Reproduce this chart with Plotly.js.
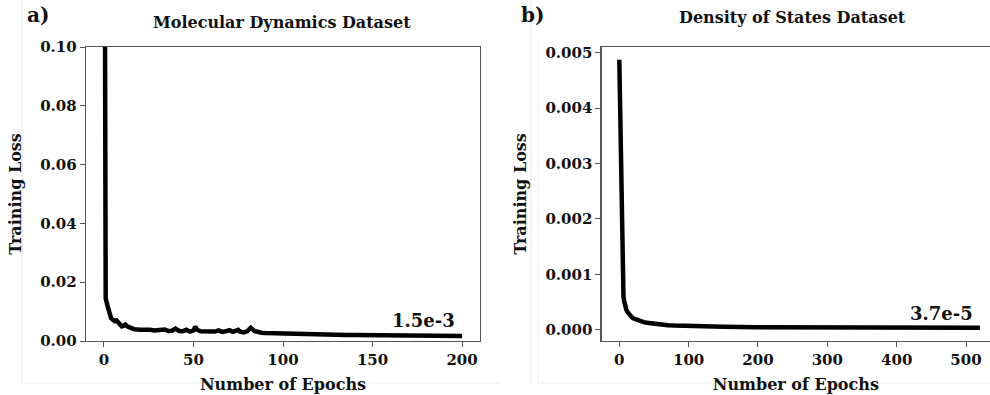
<!DOCTYPE html>
<html>
<head>
<meta charset="utf-8">
<script src="https://cdn.plot.ly/plotly-3.0.1.min.js"></script>
<style>html,body{margin:0;padding:0;background:#fff;}#chart{width:990px;height:395px;}</style>
</head>
<body>
<div id="chart"></div>
<script>
// Panel a: Molecular Dynamics Dataset
const mdEpochs = [0,1,2,3,4,5,6,7,8,9,10,11,12,13,14,15,16,17,18,19,20,
  22,24,26,28,30,32,34,36,38,40,42,44,46,48,50,51,52,54,56,58,60,62,64,66,68,70,72,74,75,76,78,80,82,84,86,88,90,
  95,100,105,110,115,120,125,130,135,140,145,150,160,170,180,190,200];
const mdLoss = [0.25,0.0145,0.012,0.0095,0.0078,0.0072,0.0068,0.0070,0.0062,0.0055,0.0050,0.0052,0.0056,0.0050,0.0046,0.0043,0.0042,0.0040,0.0041,0.0039,0.0038,
  0.0039,0.0037,0.0038,0.0036,0.0037,0.0035,0.0039,0.0034,0.0035,0.0042,0.0034,0.0033,0.0038,0.0032,0.0036,0.0049,0.0038,0.0033,0.0032,0.0033,0.0031,0.0032,0.0036,0.0031,0.0033,0.0037,0.0031,0.0034,0.0038,0.0032,0.0029,0.0033,0.0045,0.0034,0.0030,0.0028,0.0027,
  0.0026,0.0024,0.0023,0.0023,0.0022,0.0022,0.0021,0.0021,0.0020,0.0020,0.0020,0.0019,0.0019,0.0018,0.0018,0.0018,0.0017];
const mdFinal = "1.5e-3";

// Panel b: Density of States Dataset
const dosEpochs = [0,1,2,3,4,5,6,7,8,9,10,12,14,16,18,20,25,30,35,40,50,60,70,80,90,100,120,150,200,250,300,350,400,450,520];
const dosLoss = [0.00487,0.0039,0.0029,0.0020,0.0012,0.00075,0.00060,0.00052,0.00046,0.00041,0.00037,0.00032,0.00028,0.00025,0.00023,0.00021,0.00018,0.00016,0.00014,0.00013,0.00011,0.000095,0.000085,0.000078,0.000072,0.000066,0.00006,0.000055,0.00005,0.000047,0.000045,0.000043,0.000041,0.00004,0.000037];
const dosFinal = "3.7e-5";

const mdTicksX = [0,50,100,150,200];
const mdTicksY = [0,0.02,0.04,0.06,0.08,0.10];
const mdTickTextY = ["0.00","0.02","0.04","0.06","0.08","0.10"];
const dosTicksX = [0,100,200,300,400,500];
const dosTicksY = [0,0.001,0.002,0.003,0.004,0.005];
const dosTickTextY = ["0.000","0.001","0.002","0.003","0.004","0.005"];

const FONT = "DejaVu Serif";
const axisColor = "#555";
const tickFont = {family: FONT, size: 15, color: "#111", weight: "bold"};
const titleFont = {family: FONT, size: 16, color: "#111", weight: "bold"};

const traces = [
  {x: mdEpochs, y: mdLoss, xaxis: "x", yaxis: "y", mode: "lines", line: {color: "#000", width: 4.5}, hoverinfo: "skip"},
  {x: dosEpochs, y: dosLoss, xaxis: "x2", yaxis: "y2", mode: "lines", line: {color: "#000", width: 4.5}, hoverinfo: "skip"}
];

function xax(domain, range, ticks, anchor, mirror) {
  return {domain: domain, range: range, anchor: anchor, tickvals: ticks, ticktext: ticks.map(String),
    showline: true, linecolor: axisColor, linewidth: 1.3, mirror: mirror, ticks: "outside", ticklen: 5, tickcolor: axisColor,
    showgrid: false, zeroline: false, tickfont: tickFont,
    title: {text: "<b>Number of Epochs</b>", font: titleFont, standoff: 10}};
}
function yax(domain, range, ticks, text, anchor, mirror) {
  return {domain: domain, range: range, anchor: anchor, tickvals: ticks, ticktext: text,
    showline: true, linecolor: axisColor, linewidth: 1.3, mirror: mirror, ticks: "outside", ticklen: 5, tickcolor: axisColor,
    showgrid: false, zeroline: false, tickfont: tickFont,
    title: {text: "<b>Training Loss</b>", font: titleFont, standoff: 14}};
}

const yDom = [1 - 341/395, 1 - 47/395];
const layout = {
  width: 990, height: 395,
  margin: {l: 0, r: 0, t: 0, b: 0},
  paper_bgcolor: "#fff", plot_bgcolor: "#fff",
  showlegend: false,
  xaxis: xax([86/990, 480/990], [-10, 210], mdTicksX, "y", true),
  yaxis: yax(yDom, [0, 0.1], mdTicksY, mdTickTextY, "x", true),
  xaxis2: xax([601.7/990, 1.0], [-25.4, 534.6], dosTicksX, "y2", true),
  yaxis2: yax(yDom, [-0.0002, 0.0051], dosTicksY, dosTickTextY, "x2", false),
  annotations: [
    {text: "<b>a)</b>", xref: "paper", yref: "paper", x: 25/990, y: 1 - 15/395, xanchor: "left", yanchor: "middle", showarrow: false, font: {family: FONT, size: 20, color: "#111"}},
    {text: "<b>b)</b>", xref: "paper", yref: "paper", x: 519/990, y: 1 - 15/395, xanchor: "left", yanchor: "middle", showarrow: false, font: {family: FONT, size: 20, color: "#111"}},
    {text: "<b>Molecular Dynamics Dataset</b>", xref: "paper", yref: "paper", x: 282/990, y: 1 - 23/395, xanchor: "center", yanchor: "middle", showarrow: false, font: {family: FONT, size: 16, color: "#111"}},
    {text: "<b>Density of States Dataset</b>", xref: "paper", yref: "paper", x: 792/990, y: 1 - 17/395, xanchor: "center", yanchor: "middle", showarrow: false, font: {family: FONT, size: 16, color: "#111"}},
    {text: "<b>" + mdFinal + "</b>", xref: "paper", yref: "paper", x: 457/990, y: 1 - 320/395, xanchor: "right", yanchor: "middle", showarrow: false, font: {family: FONT, size: 18, color: "#111"}},
    {text: "<b>" + dosFinal + "</b>", xref: "paper", yref: "paper", x: 975/990, y: 1 - 313/395, xanchor: "right", yanchor: "middle", showarrow: false, font: {family: FONT, size: 18, color: "#111"}}
  ],
  shapes: [
    {type: "line", xref: "paper", yref: "paper", x0: 22/990, x1: 22/990, y0: 1, y1: 1 - 383/395, line: {color: "#e6e6e6", width: 1}},
    {type: "line", xref: "paper", yref: "paper", x0: 22/990, x1: 500/990, y0: 1 - 383/395, y1: 1 - 383/395, line: {color: "#eeeeee", width: 1}},
    {type: "line", xref: "paper", yref: "paper", x0: 531/990, x1: 531/990, y0: 1, y1: 1 - 383/395, line: {color: "#e6e6e6", width: 1}},
    {type: "line", xref: "paper", yref: "paper", x0: 538/990, x1: 538/990, y0: 1 - 40/395, y1: 1 - 383/395, line: {color: "#eeeeee", width: 1}},
    {type: "line", xref: "paper", yref: "paper", x0: 538/990, x1: 1, y0: 1 - 383/395, y1: 1 - 383/395, line: {color: "#eeeeee", width: 1}}
  ]
};

Plotly.newPlot("chart", traces, layout, {displayModeBar: false, staticPlot: true});
</script>
</body>
</html>
